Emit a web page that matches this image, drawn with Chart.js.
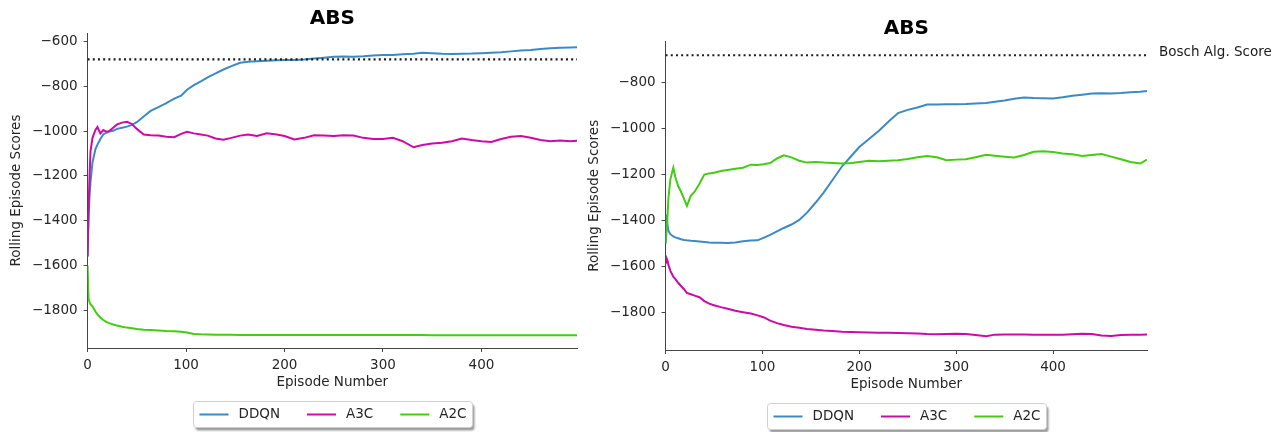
<!DOCTYPE html>
<html>
<head>
<meta charset="utf-8">
<title>ABS</title>
<script src="https://cdn.jsdelivr.net/npm/chart.js@4.4.1/dist/chart.umd.min.js"></script>
<style>
  html, body { margin: 0; padding: 0; background: #fff; }
  #wrap { position: relative; width: 1285px; height: 432px; }
  .box { position: absolute; top: 0; height: 432px; }
  .box canvas { display: block; }
  #box_left { left: 0; width: 578px; }
  #box_right { left: 578px; width: 707px; }
</style>
</head>
<body>
<div id="wrap">
  <div class="box" id="box_left"><canvas id="chart_left" width="578" height="432"></canvas></div>
  <div class="box" id="box_right"><canvas id="chart_right" width="707" height="432"></canvas></div>
</div>
<script>
var names = ['DDQN', 'A3C', 'A2C']
var cores = ['#3a8ac6', '#cc0aa8', '#44cc11']
var title = 'ABS'
var boschScore = -680
var boschLabel = 'Bosch Alg. Score'

var xTicks = [0, 100, 200, 300, 400]
var yTicksLeft = [-600, -800, -1000, -1200, -1400, -1600, -1800]
var yTicksRight = [-800, -1000, -1200, -1400, -1600, -1800]

// episode numbers shared by every series (x axis)
var episodes = [0, 1, 2, 3, 5, 8, 10, 13, 16, 19, 22, 26, 30, 35, 40, 45, 50, 57, 64, 72,
    80, 88, 95, 101, 108, 115, 122, 130, 138, 146, 155, 163, 172, 182, 192, 200, 210, 220, 230, 240,
    250, 260, 270, 280, 290, 300, 310, 320, 331, 340, 350, 360, 370, 380, 390, 400, 410, 420, 430, 440,
    450, 460, 470, 480, 490, 497]

// left plot
var leftDDQN = [-1560, -1380, -1290, -1225, -1140, -1080, -1060, -1035, -1015, -1007, -1002, -998, -990, -985, -980, -972, -960, -935, -910, -893,
    -875, -855, -842, -815, -795, -778, -760, -742, -725, -710, -695, -690, -688, -686, -684, -683, -682, -680, -676, -672,
    -668, -667, -668, -666, -662, -660, -660, -657, -655, -650, -652, -655, -656, -655, -654, -652, -650, -648, -644, -640,
    -638, -633, -630, -628, -627, -626]
var leftA3C = [-1560, -1350, -1200, -1090, -1030, -995, -982, -1010, -995, -1002, -1000, -985, -970, -962, -958, -968, -990, -1015, -1018, -1020,
    -1025, -1027, -1012, -1003, -1010, -1015, -1020, -1033, -1038, -1030, -1020, -1015, -1022, -1010, -1015, -1022, -1037, -1030, -1018, -1020,
    -1022, -1018, -1020, -1030, -1035, -1035, -1030, -1045, -1072, -1062, -1055, -1052, -1045, -1033, -1040, -1045, -1048, -1035, -1025, -1022,
    -1030, -1040, -1045, -1042, -1045, -1043]
var leftA2C = [-1600, -1750, -1762, -1772, -1782, -1805, -1818, -1832, -1843, -1851, -1857, -1863, -1868, -1873, -1877, -1880, -1883, -1886, -1888, -1890,
    -1892, -1893, -1895, -1899, -1905, -1907, -1908, -1909, -1909, -1909, -1910, -1910, -1910, -1910, -1910, -1910, -1910, -1910, -1910, -1910,
    -1910, -1910, -1910, -1910, -1910, -1910, -1910, -1910, -1910, -1910, -1911, -1911, -1911, -1911, -1911, -1911, -1911, -1911, -1911, -1911,
    -1911, -1911, -1911, -1911, -1911, -1911]

// right plot
var rightDDQN = [-1500, -1375, -1420, -1446, -1460, -1470, -1474, -1478, -1482, -1485, -1487, -1489, -1490, -1492, -1494, -1496, -1497, -1497, -1498, -1496,
    -1491, -1488, -1487, -1476, -1463, -1448, -1433, -1418, -1398, -1366, -1322, -1280, -1226, -1165, -1118, -1080, -1045, -1010, -970, -932,
    -918, -908, -895, -895, -894, -894, -893, -890, -888, -883, -877, -870, -864, -866, -867, -868, -863, -857, -852, -847,
    -846, -847, -845, -841, -839, -836]
var rightA3C = [-1590, -1565, -1575, -1595, -1620, -1645, -1655, -1672, -1686, -1700, -1716, -1722, -1728, -1735, -1752, -1763, -1770, -1778, -1785, -1794,
    -1800, -1806, -1814, -1822, -1837, -1848, -1856, -1864, -1868, -1873, -1877, -1880, -1882, -1885, -1887, -1888, -1889, -1890, -1890, -1891,
    -1892, -1893, -1895, -1896, -1895, -1894, -1895, -1900, -1905, -1898, -1897, -1897, -1897, -1898, -1898, -1898, -1898, -1896, -1894, -1895,
    -1902, -1904, -1900, -1899, -1898, -1897]
var rightA2C = [-1500, -1450, -1380, -1300, -1220, -1170, -1210, -1250, -1275, -1305, -1337, -1293, -1275, -1240, -1200, -1195, -1192, -1185, -1180, -1175,
    -1170, -1157, -1158, -1155, -1150, -1130, -1116, -1125, -1140, -1148, -1145, -1148, -1150, -1152, -1150, -1145, -1140, -1142, -1140, -1138,
    -1132, -1125, -1119, -1125, -1138, -1135, -1133, -1125, -1114, -1118, -1122, -1126, -1115, -1101, -1098, -1102, -1108, -1112, -1119, -1115,
    -1111, -1122, -1133, -1145, -1152, -1135]

var textColor = '#262626'
var axisColor = '#444444'
var fontSize = 13.5
var lastEpisode = episodes[episodes.length - 1]

Chart.defaults.font.family = '"DejaVu Sans", sans-serif'
Chart.defaults.font.size = fontSize
Chart.defaults.color = textColor

function toPoints(values) {
    return values.map(function(v, i) { return { x: episodes[i], y: v } })
}

function minusSign(value) {
    return String(value).replace('-', '\u2212')
}

// put the title over the plot area instead of the whole canvas
var centerTitle = {
    id: 'centerTitle',
    afterLayout: function(chart) {
        chart.titleBlock.left = chart.chartArea.left
        chart.titleBlock.right = chart.chartArea.right
    }
}

// matplotlib style legend box with shadow, under the x axis
var boxLegend = {
    id: 'boxLegend',
    afterDraw: function(chart) {
        var ctx = chart.ctx
        var area = chart.chartArea
        var top = Math.round(area.bottom + 53) + 0.5
        var h = 26, pad = 6, lineLen = 29, gap = 10, spacing = 27
        ctx.save()
        ctx.font = fontSize + 'px "DejaVu Sans"'
        var widths = names.map(function(n) { return ctx.measureText(n).width })
        var total = pad * 2
        widths.forEach(function(w, i) { total += lineLen + gap + w + (i > 0 ? spacing : 0) })
        var left = Math.round((area.left + area.right) / 2 - total / 2) + 0.5

        ctx.shadowColor = 'rgba(0,0,0,0.4)'
        ctx.shadowBlur = 2
        ctx.shadowOffsetX = 2
        ctx.shadowOffsetY = 3
        ctx.fillStyle = '#ffffff'
        ctx.beginPath()
        ctx.roundRect(left, top, total, h, 3)
        ctx.fill()
        ctx.shadowColor = 'transparent'
        ctx.strokeStyle = '#d0d0d0'
        ctx.lineWidth = 1
        ctx.stroke()

        var x = left + pad
        var cy = top + h / 2
        names.forEach(function(n, i) {
            ctx.strokeStyle = cores[i]
            ctx.lineWidth = 2
            ctx.beginPath()
            ctx.moveTo(x, cy)
            ctx.lineTo(x + lineLen, cy)
            ctx.stroke()
            x += lineLen + gap
            ctx.fillStyle = textColor
            ctx.textBaseline = 'middle'
            ctx.fillText(n, x, cy)
            x += widths[i] + spacing
        })
        ctx.restore()
    }
}

var boschText = {
    id: 'boschText',
    afterDraw: function(chart) {
        var ctx = chart.ctx
        var y = chart.scales.y.getPixelForValue(boschScore)
        ctx.save()
        ctx.font = fontSize + 'px "DejaVu Sans"'
        ctx.fillStyle = '#1a1a1a'
        ctx.textBaseline = 'alphabetic'
        ctx.fillText(boschLabel, chart.chartArea.right + 12, y + 0.5)
        ctx.restore()
    }
}

function makeChart(id, series, yMin, yMax, yTicks, titlePadding, layoutPadding, extraPlugins) {
    var datasets = series.map(function(values, index) {
        return {
            label: names[index],
            data: toPoints(values),
            borderColor: cores[index],
            backgroundColor: cores[index],
            borderWidth: 2,
            pointRadius: 0,
            tension: 0,
            fill: false,
            order: 3 - index
        }
    })
    datasets.push({
        label: boschLabel,
        data: [{ x: 0, y: boschScore }, { x: lastEpisode, y: boschScore }],
        borderColor: '#1a1a1a',
        borderWidth: 2.2,
        borderDash: [2, 3.2],
        pointRadius: 0,
        fill: false,
        order: 0
    })

    return new Chart(document.getElementById(id), {
        type: 'line',
        data: { datasets: datasets },
        options: {
            responsive: false,
            animation: false,
            layout: { padding: layoutPadding },
            plugins: {
                legend: { display: false },
                tooltip: { enabled: false },
                title: {
                    display: true,
                    text: title,
                    color: '#000',
                    font: { size: 20, weight: 'bold' },
                    padding: titlePadding
                }
            },
            scales: {
                x: {
                    type: 'linear',
                    min: 0,
                    max: lastEpisode,
                    afterBuildTicks: function(axis) {
                        axis.ticks = xTicks.map(function(v) { return { value: v } })
                    },
                    grid: { drawOnChartArea: false, tickLength: 4, color: axisColor },
                    border: { color: axisColor, width: 1 },
                    ticks: { padding: 5, color: textColor },
                    title: { display: true, text: 'Episode Number', color: textColor, padding: { top: -4, bottom: 4 } }
                },
                y: {
                    min: yMin,
                    max: yMax,
                    afterBuildTicks: function(axis) {
                        axis.ticks = yTicks.map(function(v) { return { value: v } })
                    },
                    grid: { drawOnChartArea: false, tickLength: 4, color: axisColor },
                    border: { color: axisColor, width: 1 },
                    ticks: {
                        padding: 6,
                        color: textColor,
                        callback: function(value) { return minusSign(value) }
                    },
                    title: { display: true, text: 'Rolling Episode Scores', color: textColor, padding: { top: 8.5, bottom: 1.2 } }
                }
            }
        },
        plugins: [centerTitle, boxLegend].concat(extraPlugins)
    })
}

var chartLeft = makeChart('chart_left', [leftDDQN, leftA3C, leftA2C], -1968, -562, yTicksLeft,
    { top: 6.5, bottom: 2.5 }, { left: 0, right: 1, top: 0, bottom: 37.6 }, [])
var chartRight = makeChart('chart_right', [rightDDQN, rightA3C, rightA2C], -1965, -620, yTicksRight,
    { top: 16.5, bottom: 1 }, { left: 0, right: 138, top: 0, bottom: 35.6 }, [boschText])
</script>
</body>
</html>
